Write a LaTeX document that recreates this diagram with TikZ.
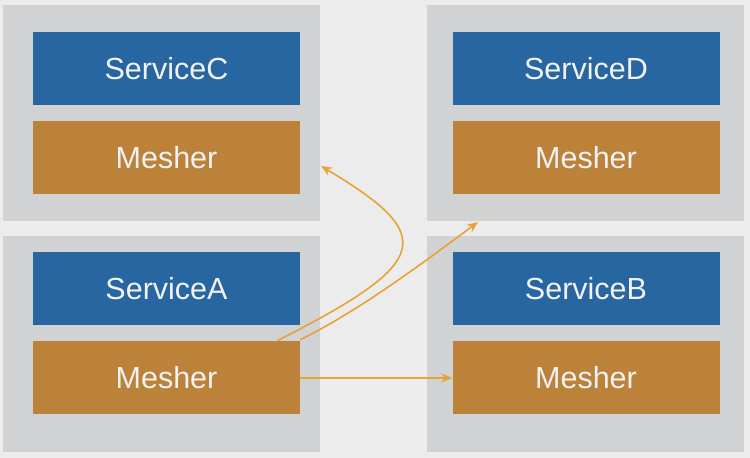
\documentclass[tikz,border=0pt]{standalone}
\usepackage{fontspec}
\setmainfont{Liberation Sans}
\usetikzlibrary{arrows.meta,calc}
\definecolor{bgc}{HTML}{ECECEC}
\definecolor{hostc}{HTML}{D1D2D4}
\definecolor{svcc}{HTML}{2766A0}
\definecolor{meshc}{HTML}{BC8239}
\definecolor{arrc}{HTML}{E9A235}
\definecolor{txtc}{HTML}{F2F2F4}
\tikzset{
  host/.style={fill=hostc,draw=none,minimum width=317pt,minimum height=216pt,inner sep=0pt},
  svc/.style={fill=svcc,draw=none,minimum width=267pt,minimum height=73pt,inner sep=0pt,
    text=txtc,font=\fontsize{30.5}{33}\selectfont,text depth=0pt},
  mesh/.style={svc,fill=meshc},
  conn/.style={draw=arrc,line width=1.6pt,-{Stealth[length=11pt,width=9pt]}}
}
\begin{document}
\begin{tikzpicture}[x=1pt,y=-1pt]
\useasboundingbox (0,0) rectangle (750,458);
\fill[bgc] (0,0) rectangle (750,458);
\node[host] (hc) at (161.5,112.5) {};
\node[host] (ha) at (161.5,344) {};
\node[host] (hd) at (585.5,112.5) {};
\node[host] (hb) at (585.5,344) {};
\node[svc] (sc) at (166.5,68.5) {ServiceC};
\node[mesh] (mc) at (166.5,157.5) {Mesher};
\node[svc] (sd) at (586,68.5) {ServiceD};
\node[mesh] (md) at (586,157.5) {Mesher};
\node[svc] (sa) at (166.5,288.5) {ServiceA};
\node[mesh] (ma) at (166.5,377.5) {Mesher};
\node[svc] (sb) at (586,288.5) {ServiceB};
\node[mesh] (mb) at (586,377.5) {Mesher};
\coordinate (endc) at (321,166);
\coordinate (endd) at (478,222);
\draw[conn] ($(ma.east)+(0,0.5)$) -- ($(mb.west)+(0,0.5)$);
\draw[conn] ($(ma.north east)+(-23,0)$) .. controls (432,262) and (438,236) .. (endc);
\draw[conn] ($(ma.north east)+(0,-1)$) .. controls (360,310) and (420,265) .. (endd);
\end{tikzpicture}
\end{document}
